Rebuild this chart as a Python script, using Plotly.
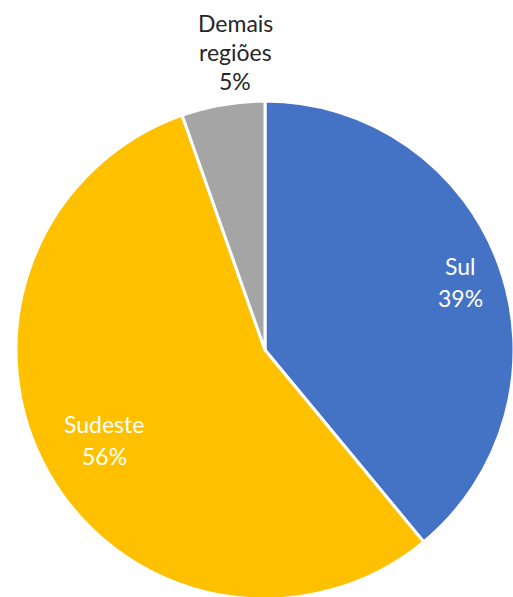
import plotly.graph_objects as go

labels = ["Sul", "Sudeste", "Demais regiões"]
values = [39.0, 55.6, 5.4]
colors = ["#4472C4", "#FFC000", "#A5A5A5"]

W, H = 516, 602
cx, cy, r = 265, 350, 249

fig = go.Figure(go.Pie(
    labels=labels, values=values, sort=False, direction="clockwise",
    rotation=0, textinfo="none", hoverinfo="label+percent",
    marker=dict(colors=colors, line=dict(color="white", width=3)),
    domain=dict(x=[(cx - r) / W, (cx + r) / W],
                y=[(H - cy - r) / H, (H - cy + r) / H]),
    showlegend=False,
))

total = sum(values)
# label placement: (x center, first-line y center, line spacing, colour)
label_pos = [(460, 266, 32, "white"), (104, 424, 32, "white"), (235, 23, 29, "#262626")]
for lab, val, (px, py, dy, col) in zip(labels, values, label_pos):
    lines = lab.split(" ") + [f"{round(100 * val / total)}%"]
    for i, line in enumerate(lines):
        fig.add_annotation(x=px / W, y=1 - (py + i * dy) / H, xref="paper", yref="paper",
                           text=line, showarrow=False, xanchor="center", yanchor="middle",
                           font=dict(family="Lato", size=23, color=col))

fig.update_layout(width=W, height=H, margin=dict(l=0, r=0, t=0, b=0),
                  paper_bgcolor="white", plot_bgcolor="white")
fig.write_html("out.html", config={"displayModeBar": False},
               post_script="document.body.style.margin='0';document.body.style.overflow='hidden';")
